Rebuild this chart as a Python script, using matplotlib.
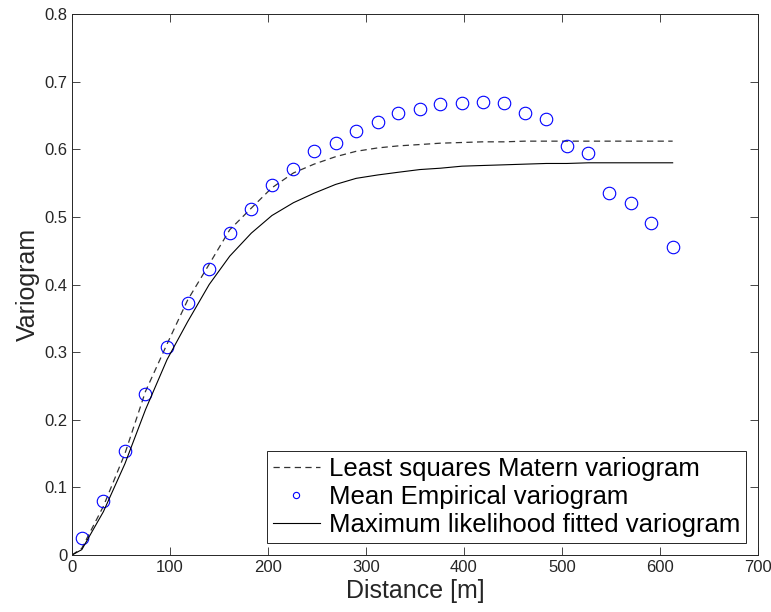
import numpy as np
import matplotlib
matplotlib.use("Agg")
import matplotlib.pyplot as plt

plt.rcParams['font.family'] = ['Liberation Sans', 'DejaVu Sans']

# lag distances [m] and mean empirical variogram
lag = [10, 32, 54, 75, 97, 118, 140, 161, 183, 204, 226, 247, 269, 290, 312,
       333, 355, 376, 398, 419, 441, 462, 484, 505, 527, 548, 570, 591, 613]
emp = [0.025, 0.080, 0.154, 0.238, 0.307, 0.372, 0.423, 0.476, 0.511, 0.547,
       0.571, 0.597, 0.609, 0.627, 0.640, 0.653, 0.659, 0.667, 0.668, 0.670,
       0.668, 0.653, 0.645, 0.605, 0.595, 0.535, 0.520, 0.491, 0.455]

# fitted curves evaluated at 0 and each lag
fit_x = [0] + lag
ls_fit = [0, 0.010, 0.072, 0.150, 0.242, 0.312, 0.377, 0.430, 0.481, 0.513,
          0.543, 0.565, 0.578, 0.589, 0.597, 0.602, 0.605, 0.607, 0.609, 0.610,
          0.611, 0.611, 0.612, 0.612, 0.612, 0.612, 0.612, 0.612, 0.612, 0.612]
ml_fit = [0, 0.008, 0.064, 0.135, 0.215, 0.289, 0.345, 0.400, 0.442, 0.476,
          0.502, 0.521, 0.535, 0.548, 0.557, 0.562, 0.566, 0.570, 0.572, 0.575,
          0.576, 0.577, 0.578, 0.579, 0.579, 0.580, 0.580, 0.580, 0.580, 0.580]

fig = plt.figure(figsize=(7.71, 6.12), dpi=100)
ax = fig.add_axes([0.0934, 0.0931, 0.8896, 0.8840])

ax.plot(fit_x, ls_fit, color='#333333', linestyle=(0, (5, 3.5)), linewidth=0.9,
        label='Least squares Matern variogram')
ax.plot(lag, emp, linestyle='none', marker='o', markersize=9, markerfacecolor='none',
        markeredgecolor='#0000ff', markeredgewidth=0.8, label='Mean Empirical variogram')
ax.plot(fit_x, ml_fit, color='black', linewidth=0.8,
        label='Maximum likelihood fitted variogram')

ax.set_xlim(0, 700)
ax.set_ylim(0, 0.8)
ax.set_xticks(np.arange(0, 701, 100))
ax.set_yticks(np.arange(0, 0.81, 0.1))
ax.set_yticklabels(['0', '0.1', '0.2', '0.3', '0.4', '0.5', '0.6', '0.7', '0.8'])

ax.tick_params(direction='in', length=5.5, width=0.6, top=True, right=True,
               labelsize=12, colors='#262626')
for s in ax.spines.values():
    s.set_linewidth(0.7)
    s.set_color('#262626')

ax.set_xlabel('Distance [m]', fontsize=18, color='#262626', labelpad=3)
ax.set_ylabel('Variogram', fontsize=18, color='#262626', labelpad=3)

leg = ax.legend(loc='lower right', fontsize=18.5, handlelength=1.8, markerscale=0.5,
                fancybox=False, edgecolor='#262626', framealpha=1,
                borderaxespad=0.45, labelspacing=0.15, handletextpad=0.35,
                borderpad=0.25)
leg.get_frame().set_linewidth(0.7)

fig.savefig('out.png', dpi=100)
